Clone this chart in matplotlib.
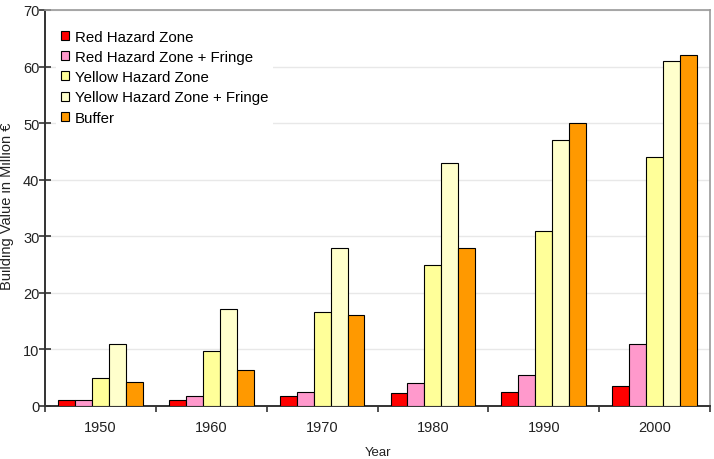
import numpy as np
import matplotlib
matplotlib.use("Agg")
import matplotlib.pyplot as plt

plt.rcParams['font.family'] = ['Liberation Sans', 'DejaVu Sans']

years = ['1950', '1960', '1970', '1980', '1990', '2000']
series_names = ['Red Hazard Zone', 'Red Hazard Zone + Fringe', 'Yellow Hazard Zone',
                'Yellow Hazard Zone + Fringe', 'Buffer']
red = [1.0, 1.0, 1.7, 2.3, 2.4, 3.5]
red_fringe = [1.0, 1.8, 2.5, 4.0, 5.5, 11.0]
yellow = [5.0, 9.7, 16.6, 25.0, 31.0, 44.0]
yellow_fringe = [11.0, 17.1, 28.0, 43.0, 47.0, 61.0]
buffer = [4.2, 6.3, 16.0, 28.0, 50.0, 62.0]
colors = ['#FF0000', '#FF99CC', '#FFFF99', '#FFFFCC', '#FF9900']

fig = plt.figure(figsize=(7.14, 4.60), dpi=100)
ax = fig.add_axes([45/714, 53/460, 665/714, 396/460])

x = np.arange(len(years))
w = 0.153
for i, (vals, name, c) in enumerate(zip([red, red_fringe, yellow, yellow_fringe, buffer],
                                        series_names, colors)):
    ax.bar(x + (i - 2) * w, vals, w, color=c, edgecolor='black', linewidth=0.8,
           label=name, zorder=3)

ax.set_xlim(-0.5, len(years) - 0.5)
ax.set_ylim(0, 70)
ax.set_yticks(range(0, 71, 10))
ax.set_xticks(np.arange(-0.5, len(years), 1.0))
ax.set_xticklabels([])
ax.set_xticks(x, minor=True)
ax.set_xticklabels(years, minor=True)
ax.tick_params(axis='x', which='minor', length=0, pad=10, labelsize=10.5, colors='#222222')
ax.tick_params(axis='x', which='major', length=4, width=1.2, color='#333333')
ax.tick_params(axis='y', length=8, direction='inout', width=1.2, color='#333333',
               labelsize=10.5, labelcolor='#222222', pad=0)

ax.yaxis.grid(True, color='#e8e8e8', linewidth=1, zorder=0)
for t in ax.yaxis.get_major_ticks():
    if t.get_loc() in (50, 60):
        t.gridline.set_color('#444444')
        t.gridline.set_linewidth(1.4)
ax.set_axisbelow(True)

for s in ['left', 'bottom']:
    ax.spines[s].set_color('#333333')
    ax.spines[s].set_linewidth(1.4)
for s in ['top', 'right']:
    ax.spines[s].set_color('#999999')
    ax.spines[s].set_linewidth(1.2)

fig.text(378/714, 1 - 453/460, 'Year', fontsize=9.5, color='#222222',
         ha='center', va='center')
fig.text(7/714, 1 - 206/460, 'Building Value in Million €', rotation=90, fontsize=10.5,
         color='#222222', ha='center', va='center')

leg = ax.legend(loc='upper left', bbox_to_anchor=(0.017, 0.962), fontsize=10.8,
                frameon=True, facecolor='white', edgecolor='none', framealpha=1,
                fancybox=False, handlelength=0.55, handleheight=0.55,
                handletextpad=0.4, labelspacing=0.42, borderpad=0.3,
                borderaxespad=0)
leg.set_zorder(5)

fig.savefig('out.png', dpi=100)
